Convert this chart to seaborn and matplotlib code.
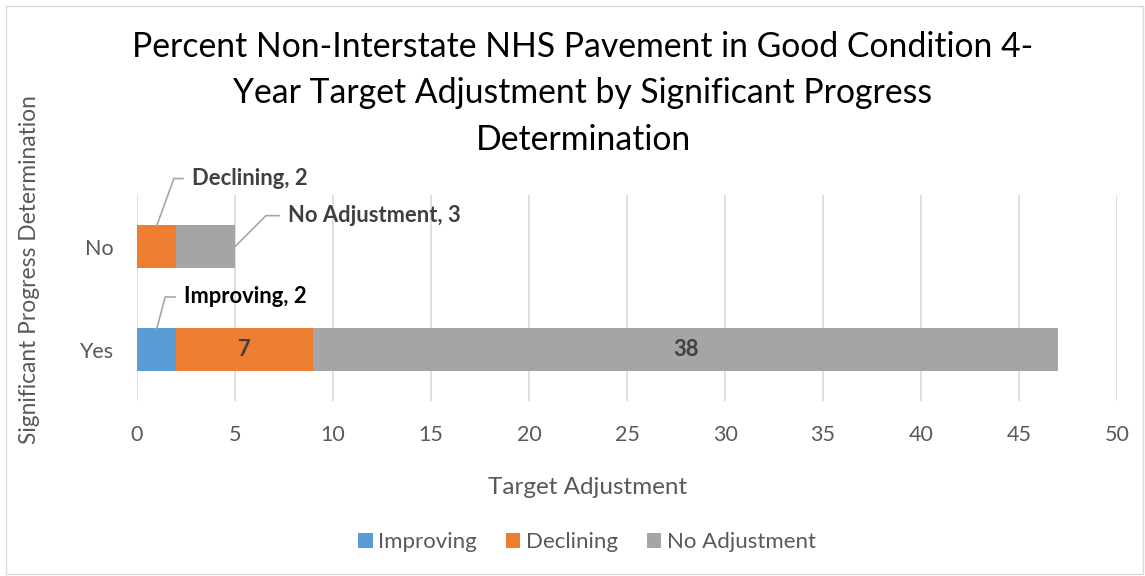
import pandas as pd
import matplotlib.pyplot as plt
import seaborn as sns
from matplotlib.patches import Patch, Rectangle

# Chart values
categories = ['No', 'Yes']
improving = [0, 2]
declining = [2, 7]
no_adjustment = [3, 38]
series_names = ['Improving', 'Declining', 'No Adjustment']
series_colors = ['#5B9BD5', '#ED7D31', '#A5A5A5']
x_ticks = [0, 5, 10, 15, 20, 25, 30, 35, 40, 45, 50]

title = 'Percent Non-Interstate NHS Pavement in Good Condition 4-\nYear Target Adjustment by Significant Progress\nDetermination'

sns.set_theme(style='white')
plt.rcParams['font.family'] = ['Lato', 'DejaVu Sans']

df = pd.DataFrame({'Determination': categories,
                   'Improving': improving,
                   'Declining': declining,
                   'No Adjustment': no_adjustment})
# cumulative totals so the bars can be drawn on top of each other
df['cum_improving'] = df['Improving']
df['cum_declining'] = df['Improving'] + df['Declining']
df['cum_all'] = df['cum_declining'] + df['No Adjustment']

fig = plt.figure(figsize=(11.45, 5.76), dpi=100)
ax = fig.add_axes([0.1197, 0.3038, 0.8559, 0.3576])

for col, color in zip(['cum_all', 'cum_declining', 'cum_improving'], series_colors[::-1]):
    sns.barplot(data=df, x=col, y='Determination', order=categories, color=color,
                saturation=1, width=0.41, linewidth=0, ax=ax)

ax.set_xlim(0, 50)
ax.set_ylim(1.5, -0.5)
ax.set_xticks(x_ticks)
ax.grid(axis='x', color='#D9D9D9', linewidth=1.2)
ax.grid(axis='y', visible=False)
ax.set_axisbelow(True)
for s in ax.spines.values():
    s.set_visible(False)
ax.tick_params(axis='both', length=0, labelsize=15.5, colors='#595959')
ax.tick_params(axis='x', pad=17)
ax.tick_params(axis='y', pad=17)
ax.set_xlabel('')
ax.set_ylabel('')
fig.text(588 / 1145, 1 - 487 / 576, 'Target Adjustment', ha='center', va='center',
         fontsize=17.5, color='#595959')
fig.text(30 / 1145, 1 - 270 / 576, 'Significant Progress Determination', rotation=90,
         ha='center', va='center', fontsize=16.4, color='#595959')

fig.suptitle(title, x=583 / 1145, y=1 - 31 / 576, fontsize=24.3, color='black',
             linespacing=1.55, va='top')

# inner labels for the Yes bar
ax.text(improving[1] + declining[1] / 2, 1, str(declining[1]), ha='center', va='center',
        fontsize=15.8, fontweight='bold', color='#404040')
ax.text(improving[1] + declining[1] + no_adjustment[1] / 2, 1, str(no_adjustment[1]),
        ha='center', va='center', fontsize=15.8, fontweight='bold', color='#404040')

# callout labels with leader lines
lead = dict(arrowstyle='-', color='#A6A6A6', lw=1.2, shrinkA=4, shrinkB=0)
ax.annotate(f'Declining, {declining[0]}', xy=(declining[0] / 2, -0.2), xytext=(2.8, -0.66),
            ha='left', va='center', fontsize=15.8, fontweight='bold', color='#404040',
            annotation_clip=False,
            arrowprops=dict(lead, connectionstyle='angle,angleA=0,angleB=70,rad=0'))
ax.annotate(f'No Adjustment, {no_adjustment[0]}', xy=(declining[0] + no_adjustment[0], 0),
            xytext=(7.7, -0.3), ha='left', va='center', fontsize=15.8, fontweight='bold',
            color='#404040', annotation_clip=False,
            arrowprops=dict(lead, connectionstyle='angle,angleA=0,angleB=45,rad=0'))
ax.annotate(f'Improving, {improving[1]}', xy=(improving[1] / 2, 0.8), xytext=(2.4, 0.49),
            ha='left', va='center', fontsize=15.8, fontweight='bold', color='black',
            annotation_clip=False,
            arrowprops=dict(lead, connectionstyle='angle,angleA=0,angleB=75,rad=0'))

handles = [Patch(facecolor=c, edgecolor='none') for c in series_colors]
leg = fig.legend(handles, series_names, loc='center', bbox_to_anchor=(587 / 1145, 1 - 542 / 576),
                 ncol=3, frameon=False, fontsize=16, handlelength=0.65, handleheight=0.65,
                 handletextpad=0.25, columnspacing=1.3)
for t in leg.get_texts():
    t.set_color('#595959')

fig.patches.append(Rectangle((6 / 1145, 2 / 576), 1137 / 1145, 568 / 576, transform=fig.transFigure,
                             fill=False, edgecolor='#D9D9D9', linewidth=1))

plt.savefig('out.png', dpi=100)
